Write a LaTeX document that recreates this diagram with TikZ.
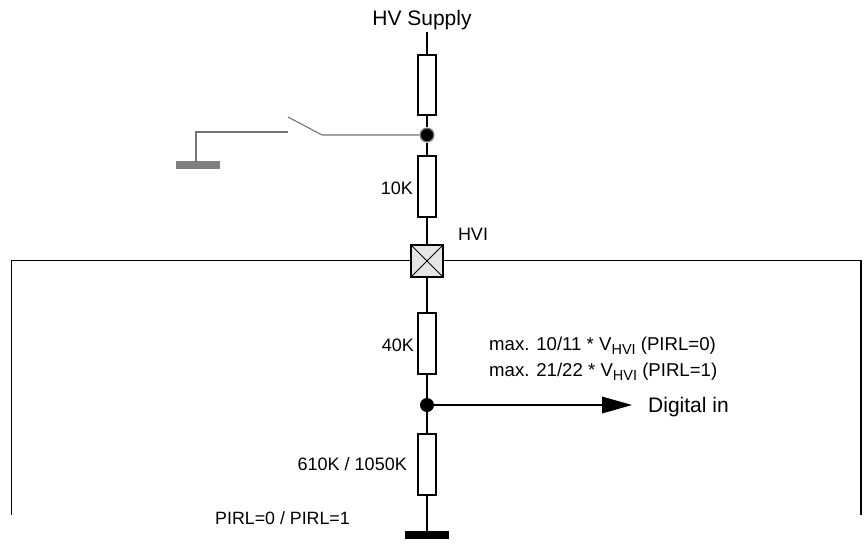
\documentclass[tikz,border=0pt]{standalone}
\usepackage{fontspec}
\setmainfont{Liberation Sans}
\newcommand{\subtxt}[1]{\raisebox{-4pt}{\fontsize{14.5}{16}\selectfont #1}}
\begin{document}
\begin{tikzpicture}[x=1pt,y=-1pt,
  wire/.style={draw=black,line width=1.1pt},
  gwire/.style={draw=black!55,line width=1.1pt},
  resistor/.style={draw=black,line width=1.8pt,fill=white,rectangle,minimum width=18.5pt,minimum height=60.5pt,inner sep=0pt,outer sep=0pt},
  dot/.style={circle,fill=black,inner sep=0pt,minimum size=14pt},
  bigtxt/.style={font=\fontsize{21}{24}\selectfont,inner sep=0pt},
  smalltxt/.style={font=\fontsize{18}{22}\selectfont,inner sep=0pt},
  tinytxt/.style={font=\fontsize{18.6}{20}\selectfont,inner sep=0pt},
  pirltxt/.style={font=\fontsize{17.8}{20}\selectfont,inner sep=0pt}]
\useasboundingbox (0,0) rectangle (867,550);
\fill[white] (0,0) rectangle (867,550);
% coordinates
\coordinate (top) at (427,32);
\coordinate (frameBL) at (11.5,515);
\coordinate (frameTL) at (11.5,260.5);
\coordinate (frameTR) at (861,260.5);
\coordinate (frameBR) at (861,515);
\coordinate (swA) at (322,135);
\coordinate (swB) at (288,117);
\coordinate (swC) at (288,132);
\coordinate (swD) at (196,132);
\coordinate (swE) at (196,162);
% frame
\draw[wire] (frameBL) -- (frameTL) -- (frameTR) -- (frameBR);
% nodes
\node[resistor] (r1) at (427,85) {};
\node[dot,fill=black!55,minimum size=15pt] (j1g) at (427,135) {};
\node[resistor] (r2) at (427,186.5) {};
\node[draw=black,line width=1.1pt,fill=black!10,rectangle,minimum size=32pt,inner sep=0pt,outer sep=0pt] (hvi) at (427,261) {};
\node[resistor] (r3) at (427,343.5) {};
\node[resistor] (r4) at (427,464.5) {};
\node[dot] (j2) at (427,405) {};
\node[rectangle,fill=black,minimum width=44pt,minimum height=8pt,inner sep=0pt] (gnd) at (427,535) {};
\node[rectangle,fill=black!50,minimum width=44pt,minimum height=8pt,inner sep=0pt] (gnd2) at (198,165) {};
% connectors
\draw[wire] (top) -- (r1.north);
\draw[wire] (r1.south) -- (j1g);
\draw[wire] (j1g) -- (r2.north);
\draw[wire] (r2.south) -- (hvi.north);
\draw[wire] (hvi.south) -- (r3.north);
\draw[wire] (r3.south) -- (j2);
\draw[wire] (j2) -- (r4.north);
\draw[wire] (r4.south) -- (gnd.north);
\draw[draw=black,line width=0.9pt] (hvi.north west) -- (hvi.south east) (hvi.north east) -- (hvi.south west);
\draw[gwire] (j1g) -- (swA) -- (swB);
\draw[gwire] (swC) -- (swD) -- (swE);
\node[dot,minimum size=12pt] (j1) at (427,135) {};
% arrow
\coordinate (arrowBase) at (602,405);
\coordinate (arrowTip) at (632,405);
\draw[wire] (j2) -- (arrowBase);
\fill[black] (602,396.5) -- (arrowTip) -- (602,413.5) -- cycle;
% labels
\node[bigtxt,anchor=base] (tHV) at (422,25.5) {HV Supply};
\node[smalltxt,anchor=base east] (t10k) at (413,194) {10K};
\node[smalltxt,anchor=base] (thvi) at (473,240) {HVI};
\node[smalltxt,anchor=base east] (t40k) at (414,351) {40K};
\node[tinytxt,anchor=base west] (tm1) at (489,350) {max. 10/11 * V\subtxt{HVI} (PIRL=0)};
\node[tinytxt,anchor=base west] (tm2) at (489,376) {max. 21/22 * V\subtxt{HVI} (PIRL=1)};
\node[bigtxt,anchor=base west] (tdig) at (648,412) {Digital in};
\node[smalltxt,anchor=base east] (t610) at (407,470) {610K / 1050K};
\node[pirltxt,anchor=base east] (tpirl) at (350,524) {PIRL=0 / PIRL=1};
\end{tikzpicture}
\end{document}
